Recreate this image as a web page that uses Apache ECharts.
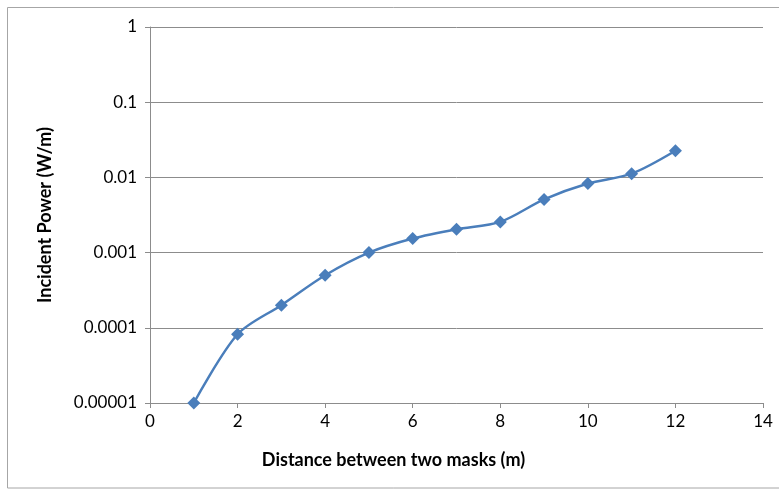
<!DOCTYPE html>
<html>
<head>
<meta charset="utf-8">
<script src="https://cdn.jsdelivr.net/npm/echarts@6/dist/echarts.min.js"></script>
<style>
  html, body { margin: 0; padding: 0; background: #fff; }
  #chart { width: 779px; height: 489px; }
</style>
</head>
<body>
<div id="chart"></div>
<script>
// distance between masks (m)
const distance = [1, 2, 3, 4, 5, 6, 7, 8, 9, 10, 11, 12];
// incident power (W/m)
const power = [0.00001, 0.000082, 0.0002, 0.0005, 0.001, 0.00154, 0.00205, 0.00256, 0.0051, 0.0083, 0.0112, 0.0226];
const yTickLabels = ["0.00001", "0.0001", "0.001", "0.01", "0.1", "1"];

const chart = echarts.init(document.getElementById("chart"));

const seriesData = distance.map((d, i) => [d, power[i]]);

const option = {
  animation: false,
  graphic: [
    {
      type: "rect",
      shape: { x: 7.5, y: 7.5, width: 800, height: 480.5 },
      style: { fill: "none", stroke: "#a6a6a6", lineWidth: 1 },
      silent: true,
    },
  ],
  grid: {
    left: 150,
    top: 27,
    right: 16,
    bottom: 86,
    containLabel: false,
  },
  xAxis: {
    type: "value",
    min: 0,
    max: 14,
    interval: 2,
    name: "Distance between two masks (m)",
    nameLocation: "middle",
    nameGap: 48,
    nameTextStyle: {
      fontFamily: "Lato",
      fontWeight: "bold",
      fontSize: 18,
      color: "#000",
      // excel centres the title on the whole chart area, not the plot
      padding: [0, 126, 0, 0],
    },
    axisLine: { onZero: false, lineStyle: { color: "#8c8c8c", width: 1 } },
    axisTick: { show: true, inside: false, length: 5, lineStyle: { color: "#8c8c8c" } },
    axisLabel: { fontFamily: "Lato", fontSize: 17, color: "#000", margin: 10 },
    splitLine: { show: false },
  },
  yAxis: {
    type: "log",
    logBase: 10,
    min: 0.00001,
    max: 1,
    name: "Incident Power (W/m)",
    nameLocation: "middle",
    nameGap: 96,
    nameTextStyle: {
      fontFamily: "Lato",
      fontWeight: "bold",
      fontSize: 18,
      color: "#000",
    },
    axisLine: { show: true, lineStyle: { color: "#8c8c8c", width: 1 } },
    axisTick: { show: true, inside: false, length: 5, lineStyle: { color: "#8c8c8c" } },
    axisLabel: {
      fontFamily: "Lato",
      fontSize: 17,
      color: "#000",
      margin: 13,
      formatter: function (v) {
        const idx = Math.round(Math.log10(v)) + 5;
        return yTickLabels[idx] !== undefined ? yTickLabels[idx] : "";
      },
    },
    splitLine: { show: true, lineStyle: { color: "#8c8c8c", width: 1 } },
  },
  series: [
    {
      type: "line",
      data: seriesData,
      smooth: 0.3,
      symbol: "diamond",
      symbolSize: 13,
      lineStyle: { color: "#4a7ebb", width: 2.5 },
      itemStyle: { color: "#4a7ebb" },
    },
  ],
};

chart.setOption(option);
</script>
</body>
</html>
